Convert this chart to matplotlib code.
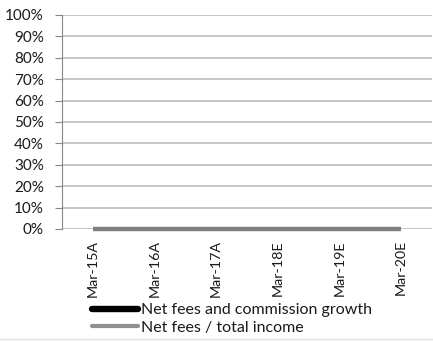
import matplotlib
matplotlib.use("Agg")
import matplotlib.pyplot as plt
from matplotlib.ticker import PercentFormatter, MultipleLocator
from matplotlib.lines import Line2D

categories = ["Mar-15A", "Mar-16A", "Mar-17A", "Mar-18E", "Mar-19E", "Mar-20E"]
fee_growth = [0.0, 0.0, 0.0, 0.0, 0.0, 0.0]
fees_share = [0.0, 0.0, 0.0, 0.0, 0.0, 0.0]

plt.rcParams.update({
    "font.family": ["Lato", "DejaVu Sans"],
    "font.size": 11.5,
    "text.color": "#1a1a1a",
    "xtick.color": "#1a1a1a",
    "ytick.color": "#1a1a1a",
})

fig = plt.figure(figsize=(4.33, 3.41), dpi=100)
ax = fig.add_axes([62/433, 1 - 229/341, 370/433, 214/341])

x = list(range(len(categories)))
ax.plot(x, fee_growth, color="black", lw=2.6, solid_capstyle="butt", zorder=3, clip_on=False)
ax.plot(x, fees_share, color="#808080", lw=3.2, solid_capstyle="butt", zorder=4, clip_on=False)

ax.set_xlim(-0.5, len(categories) - 0.5)
ax.set_ylim(0, 1.0)
ax.yaxis.set_major_locator(MultipleLocator(0.1))
ax.yaxis.set_major_formatter(PercentFormatter(xmax=1.0, decimals=0))
ax.set_xticks(x)
ax.set_xticklabels(categories, rotation=90, fontsize=10.3)
ax.tick_params(axis="x", length=0, pad=8)
ax.tick_params(axis="y", length=5, color="#868686", pad=8, labelsize=11)
ax.grid(axis="y", color="#c0c0c0", lw=1.3)
ax.set_axisbelow(True)
for s in ["top", "right", "bottom"]:
    ax.spines[s].set_visible(False)
ax.spines["left"].set_color("#868686")

handles = [
    Line2D([], [], color="black", lw=4.6, solid_capstyle="round"),
    Line2D([], [], color="#909090", lw=3, solid_capstyle="round"),
]
fig.legend(handles, ["Net fees and commission growth", "Net fees / total income"],
           loc="upper left", bbox_to_anchor=(92/433, 1 - 303/341),
           frameon=False, handlelength=2.9, handletextpad=0.15,
           labelspacing=0.2, borderpad=0, borderaxespad=0)

fig.add_artist(Line2D([0, 1], [1 - 339/341] * 2, color="#e0e0e0", lw=1))

fig.savefig("out.png", dpi=100)
